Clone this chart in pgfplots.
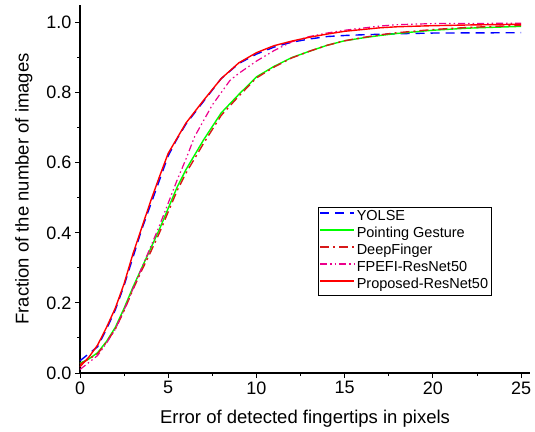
\documentclass[border=0pt]{standalone}
\usepackage{pgfplots}
\pgfplotsset{compat=1.18}
\usepackage{fontspec}
\setmainfont{Liberation Sans}
\definecolor{dfred}{RGB}{215,25,25}
\begin{document}
\begin{tikzpicture}[x=1pt,y=1pt]
\begin{axis}[
  scale only axis, width=450pt, height=368pt,
  xmin=0, xmax=25.5, ymin=0, ymax=1.05,
  axis x line*=bottom, axis y line*=left,
  axis line style={line width=1.1pt, black},
  xtick={0,5,...,25}, minor x tick num=1,
  ytick={0,0.2,0.4,0.6,0.8,1.0}, minor y tick num=1,
  tick align=outside, major tick length=5pt, minor tick length=3pt,
  tick style={line width=1pt, black},
  yticklabel style={/pgf/number format/.cd, fixed, fixed zerofill, precision=1},
  /pgf/number format/assume math mode=true,
  ticklabel style={font=\fontsize{18}{21}\selectfont},
  xlabel={Error of detected fingertips in pixels},
  ylabel={Fraction of the number of images},
  label style={font=\fontsize{18.5}{22}\selectfont},
  xlabel style={yshift=-9pt},
  ylabel style={yshift=7pt},
  legend cell align=left,
  legend style={at={(rel axis cs:0.529,0.451)}, anchor=north west,
    font=\fontsize{14.5}{16}\selectfont, draw=black,
    inner xsep=1pt, inner ysep=1.5pt, row sep=0pt,
    nodes={text height=11pt, text depth=4pt, inner ysep=1pt}},
  legend image code/.code={\draw[line width=1.5pt,#1] (0pt,4pt) -- (34pt,4pt);},
  clip=false,
]
\addplot[blue, line width=1.4pt, dash pattern=on 9pt off 6pt] coordinates {
(0,0.035)(0.5,0.055)(1,0.075)(1.5,0.125)(2,0.18)(2.5,0.25)(3,0.33)(3.5,0.41)(4,0.48)(4.5,0.55)(5,0.62)(5.5,0.668)(6,0.71)(7,0.775)(8,0.84)(9,0.883)(10,0.91)(11,0.93)(12,0.944)(13,0.953)(14,0.96)(15,0.963)(16,0.965)(18,0.968)(20,0.97)(25,0.971)};
\addlegendentry{YOLSE}
\addplot[green, line width=1.4pt] coordinates {
(0,0.028)(0.5,0.04)(1,0.058)(1.5,0.09)(2,0.13)(2.5,0.185)(3,0.245)(3.5,0.3)(4,0.355)(4.5,0.41)(5,0.47)(5.5,0.53)(6,0.58)(7,0.665)(8,0.742)(9,0.795)(10,0.845)(11,0.875)(12,0.9)(13,0.918)(14,0.935)(15,0.948)(16,0.956)(17,0.963)(18,0.969)(20,0.978)(22,0.984)(25,0.989)};
\addlegendentry{Pointing Gesture}
\addplot[dfred, line width=1.4pt, dash pattern=on 9pt off 4pt on 2pt off 4pt] coordinates {
(0,0.025)(0.5,0.04)(1,0.055)(1.5,0.088)(2,0.125)(2.5,0.178)(3,0.238)(3.5,0.293)(4,0.345)(4.5,0.4)(5,0.46)(5.5,0.52)(6,0.57)(7,0.655)(8,0.735)(9,0.79)(10,0.842)(11,0.873)(12,0.899)(13,0.918)(14,0.935)(15,0.948)(16,0.957)(17,0.965)(18,0.971)(20,0.98)(22,0.986)(25,0.992)};
\addlegendentry{DeepFinger}
\addplot[magenta, line width=1.2pt, dash pattern=on 7pt off 3pt on 1.5pt off 3pt on 1.5pt off 3pt] coordinates {
(0,0.01)(0.5,0.03)(1,0.05)(1.5,0.085)(2,0.125)(2.5,0.18)(3,0.24)(3.5,0.3)(4,0.36)(4.5,0.42)(5,0.485)(5.5,0.55)(6,0.61)(6.5,0.675)(7,0.72)(7.5,0.765)(8,0.8)(8.5,0.835)(9,0.855)(10,0.89)(11,0.92)(12,0.945)(13,0.96)(14,0.97)(15,0.978)(16,0.984)(17,0.99)(18,0.994)(20,0.997)(25,0.998)};
\addlegendentry{FPEFI-ResNet50}
\addplot[red, line width=1.4pt] coordinates {
(0,0.018)(0.5,0.045)(1,0.08)(1.5,0.13)(2,0.185)(2.5,0.255)(3,0.34)(3.5,0.415)(4,0.49)(4.5,0.56)(5,0.627)(5.5,0.67)(6,0.713)(7,0.778)(8,0.84)(9,0.885)(10,0.914)(11,0.934)(12,0.947)(13,0.958)(14,0.967)(15,0.975)(16,0.98)(17,0.985)(18,0.988)(20,0.991)(22,0.993)(25,0.995)};
\addlegendentry{Proposed-ResNet50}
\coordinate (bl) at (rel axis cs:-0.1778,-0.1603);
\coordinate (tr) at (rel axis cs:1.0111,1.0136);
\end{axis}
\pgfresetboundingbox
\path (bl) rectangle (tr);
\end{tikzpicture}
\end{document}
